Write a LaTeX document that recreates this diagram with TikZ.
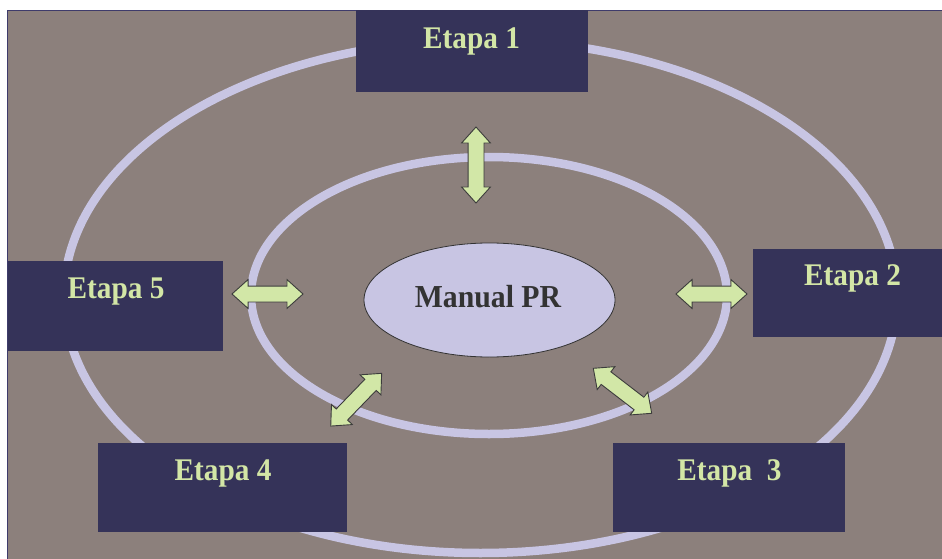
\documentclass[tikz,border=0pt]{standalone}
\usepackage{fontspec}
\setmainfont{Liberation Serif}[FakeStretch=0.93]
\usetikzlibrary{shapes.geometric,shapes.arrows}

\definecolor{slidebg}{HTML}{8C807C}
\definecolor{frameline}{HTML}{3E3B6B}
\definecolor{ringcol}{HTML}{C8C5E3}
\definecolor{stagefill}{HTML}{353359}
\definecolor{stagetext}{HTML}{D3E6A6}
\definecolor{arrowfill}{HTML}{D2E7A7}
\definecolor{arrowline}{HTML}{3C3C3C}
\definecolor{hubtext}{HTML}{333333}

\tikzset{
  ring/.style={draw=ringcol, line width=8.5pt},
  stagebox/.style={rectangle, fill=stagefill, draw=none, inner sep=0pt, outer sep=0pt},
  stagelabel/.style={anchor=base, inner sep=0pt, text=stagetext,
    font=\bfseries\fontsize{31.5}{36}\selectfont},
  linkarrow/.style={shape=double arrow, fill=arrowfill, draw=arrowline,
    line width=0.9pt, inner sep=0pt, inner ysep=7.5pt,
    double arrow head extend=6.5pt, double arrow tip angle=84,
    double arrow head indent=0pt},
  hub/.style={ellipse, fill=ringcol, draw=hubtext, line width=0.8pt,
    minimum width=251pt, minimum height=114pt, inner sep=0pt},
  hublabel/.style={anchor=base, inner sep=0pt, text=hubtext,
    font=\bfseries\fontsize{32}{36}\selectfont},
}

\begin{document}
\begin{tikzpicture}[x=1pt, y=-1pt]
  \useasboundingbox (0,0) rectangle (942,559);

  % slide area with its frame on the left and top
  \fill[slidebg] (7,10) rectangle (942,559);
  \draw[frameline, line width=1.5pt] (7.5,559) -- (7.5,10.5) -- (942,10.5);

  % the two rings around the manual
  \draw[ring] (480.5,296.5) ellipse [x radius=416.5, y radius=256.5];
  \draw[ring] (489,295.5) ellipse [x radius=238, y radius=138.5];

  % stage boxes
  \node[stagebox, minimum width=232pt, minimum height=82pt] (e1) at (472,51) {};
  \node[stagebox, minimum width=189pt, minimum height=88pt] (e2) at (847.5,293) {};
  \node[stagebox, minimum width=232pt, minimum height=89pt] (e3) at (729,487.5) {};
  \node[stagebox, minimum width=249pt, minimum height=89pt] (e4) at (222.5,487.5) {};
  \node[stagebox, minimum width=215pt, minimum height=90pt] (e5) at (115.5,306) {};

  \node[stagelabel] (t1) at (471.5,49) {Etapa 1};
  \node[stagelabel] (t2) at (852.5,285) {Etapa 2};
  \node[stagelabel] (t3) at (729.5,480) {Etapa\ \ 3};
  \node[stagelabel] (t4) at (223,480) {Etapa 4};
  \node[stagelabel] (t5) at (116,298) {Etapa 5};

  % two-way arrows between the manual and the stages
  \node[linkarrow, minimum height=76pt, rotate=90] (a1) at (476,165) {};
  \node[linkarrow, minimum height=71pt] (a2) at (711.5,294) {};
  \node[linkarrow, minimum height=73.7pt, rotate=-37.6] (a3) at (622.5,390.8) {};
  \node[linkarrow, minimum height=73.3pt, rotate=46] (a4) at (356.2,399.7) {};
  \node[linkarrow, minimum height=71pt] (a5) at (267.5,294) {};

  % the manual at the centre
  \node[hub] (hub) at (489.5,300) {};
  \node[hublabel] (hubt) at (488,307) {Manual PR};
\end{tikzpicture}
\end{document}
